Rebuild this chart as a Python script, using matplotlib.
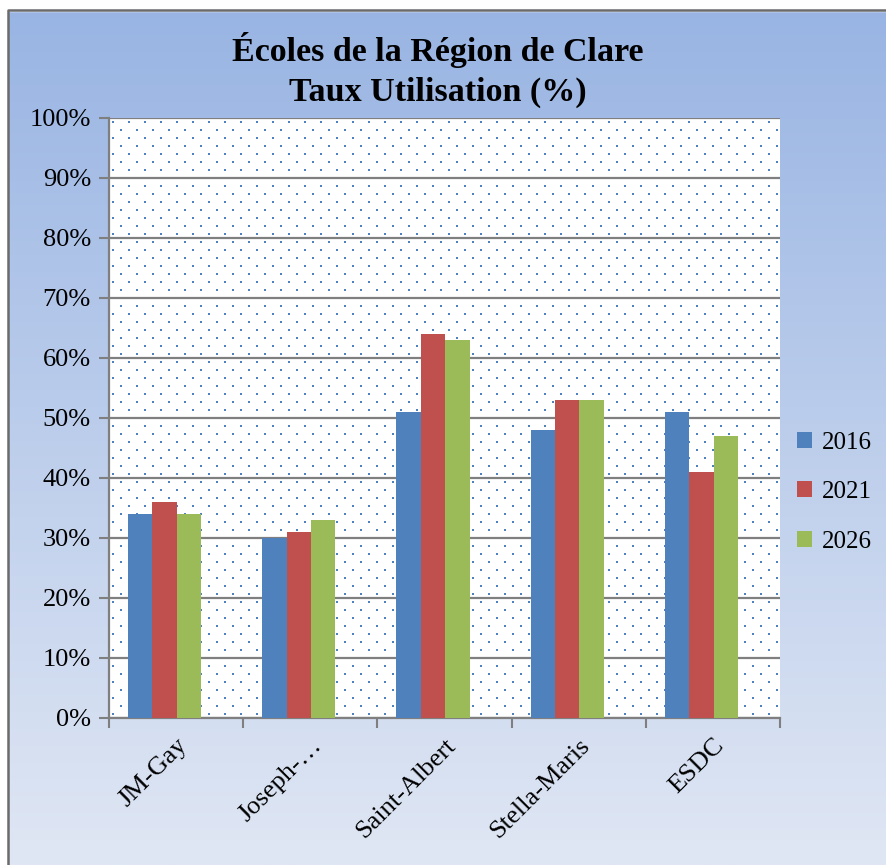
import numpy as np
import matplotlib
matplotlib.use('Agg')
import matplotlib.pyplot as plt
from matplotlib.patches import Rectangle

# Data
schools = ['JM-Gay', 'Joseph-…', 'Saint-Albert', 'Stella-Maris', 'ESDC']
years = ['2016', '2021', '2026']
taux_2016 = [34, 30, 51, 48, 51]
taux_2021 = [36, 31, 64, 53, 41]
taux_2026 = [34, 33, 63, 53, 47]
bar_colors = ['#4F81BD', '#C0504D', '#9BBB59']

plt.rcParams['font.family'] = ['Liberation Serif', 'DejaVu Serif']

W, H = 886, 865
fig = plt.figure(figsize=(W / 100, H / 100), dpi=100)

# Gradient background of the chart area
bg = fig.add_axes([0, 0, 1, 1])
bg.set_axis_off()
top = np.array([152, 180, 227]) / 255
bottom = np.array([224, 231, 244]) / 255
t = np.linspace(0, 1, 400)[:, None, None]
grad = top * (1 - t) + bottom * t
grad = np.repeat(grad, 2, axis=1)
bg.imshow(grad, aspect='auto', extent=[0, 1, 0, 1], transform=bg.transAxes)
bg.add_patch(Rectangle((0, 0), 7 / W, 1, transform=bg.transAxes, color='white', zorder=2))
bg.add_patch(Rectangle((0, 1 - 11 / H), 1, 11 / H, transform=bg.transAxes, color='white', zorder=2))
bg.plot([8 / W, 8 / W, 1], [0, 1 - 10 / H, 1 - 10 / H], color='#6b6b6b', lw=1.8,
        transform=bg.transAxes, zorder=3, solid_capstyle='butt')
bg.set_xlim(0, 1)
bg.set_ylim(0, 1)

# Plot area
x0, x1, y0, y1 = 109, 780, 118, 718
ax = fig.add_axes([x0 / W, 1 - y1 / H, (x1 - x0) / W, (y1 - y0) / H])

# dotted fill of the plot area
pw, ph = x1 - x0, y1 - y0
pat = np.ones((ph, pw, 3))
dot = np.array([79, 129, 189]) / 255
for r in range(3, ph, 8):
    off = 3 if (r // 8) % 2 == 0 else 11
    for c in range(off, pw, 16):
        pat[r:r + 2, c:c + 2] = dot
ax.imshow(pat, aspect='auto', extent=[0, 1, 0, 1], transform=ax.transAxes,
          interpolation='nearest', zorder=0)

x = np.arange(len(schools))
w = 0.182
shift = -0.086
for i, (vals, col) in enumerate(zip([taux_2016, taux_2021, taux_2026], bar_colors)):
    ax.bar(x + shift + (i - 1) * w, vals, width=w, color=col, label=years[i], zorder=3)

ax.set_xlim(-0.5, len(schools) - 0.5)
ax.set_ylim(0, 100)
ax.set_yticks(np.arange(0, 101, 10))
ax.set_yticklabels([f'{v}%' for v in range(0, 101, 10)], fontsize=19)
ax.yaxis.grid(True, color='#7f7f7f', lw=1.6, zorder=1)
ax.set_axisbelow(True)

ax.set_xticks(np.arange(-0.5, len(schools), 1))
ax.set_xticklabels([])
ax.set_xticks(x, minor=True)
ax.set_xticklabels(schools, minor=True, rotation=45, ha='right',
                   rotation_mode='anchor', fontsize=19)
ax.tick_params(axis='x', which='minor', length=0, pad=12)
ax.tick_params(axis='x', which='major', length=7, width=1.5, color='#7f7f7f', direction='out')
ax.tick_params(axis='y', length=7, width=1.5, color='#7f7f7f', pad=6)

for s in ['top', 'right']:
    ax.spines[s].set_visible(False)
for s in ['left', 'bottom']:
    ax.spines[s].set_color('#7f7f7f')
    ax.spines[s].set_linewidth(1.6)

fig.text(0.494, 1 - 50 / H, 'Écoles de la Région de Clare', ha='center', va='center',
         fontsize=24.5, fontweight='bold')
fig.text(0.494, 1 - 92 / H, 'Taux Utilisation (%)', ha='center', va='center',
         fontsize=24.5, fontweight='bold')

fig.legend(loc='center left', bbox_to_anchor=(797 / W, 1 - 492 / H), frameon=False,
           fontsize=18, handlelength=0.6, handleheight=0.6, handletextpad=0.4,
           labelspacing=1.1, borderpad=0, borderaxespad=0)

fig.savefig('out.png', dpi=100)
